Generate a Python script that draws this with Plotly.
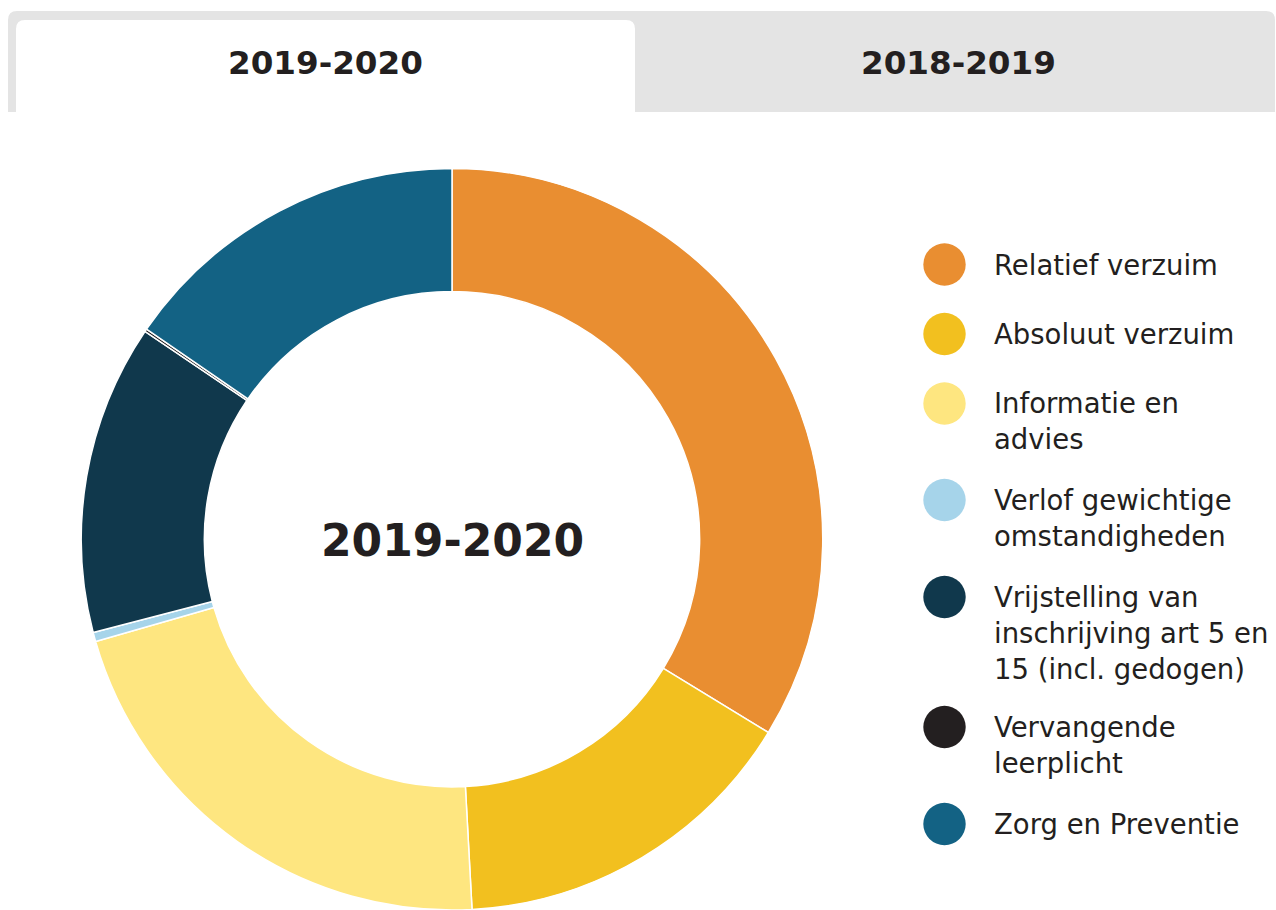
import plotly.graph_objects as go

# ---- data ----
categories = [
    "Relatief verzuim",
    "Absoluut verzuim",
    "Informatie en advies",
    "Verlof gewichtige omstandigheden",
    "Vrijstelling van inschrijving art 5 en 15 (incl. gedogen)",
    "Vervangende leerplicht",
    "Zorg en Preventie",
]
legend_labels = [
    "Relatief verzuim",
    "Absoluut verzuim",
    "Informatie en<br>advies",
    "Verlof gewichtige<br>omstandigheden",
    "Vrijstelling van<br>inschrijving art 5 en<br>15 (incl. gedogen)",
    "Vervangende<br>leerplicht",
    "Zorg en Preventie",
]
values = [33.7, 15.4, 21.4, 0.4, 13.5, 0.12, 15.4]
colors = ["#E98E31", "#F2C01F", "#FEE680", "#A6D4EA", "#10384C", "#231F20", "#136284"]
tab_labels = ["2019-2020", "2018-2019"]
center_label = "2019-2020"

W, H = 1276, 910
FONT = "DejaVu Sans, Verdana, sans-serif"
TXT = "#231F20"


def px(x):
    return x / W


def py(y):
    return 1 - y / H


fig = go.Figure()

# donut
cx, cy, r = 452, 539.5, 371
fig.add_trace(go.Pie(
    labels=categories,
    values=values,
    hole=0.668,
    sort=False,
    direction="clockwise",
    rotation=0,
    marker=dict(colors=colors, line=dict(color="white", width=1.5)),
    textinfo="none",
    hoverinfo="label+percent",
    showlegend=False,
    domain=dict(x=[px(cx - r), px(cx + r)], y=[0, py(cy - r)]),
))

shapes = []


def rounded_top_rect(x0, y0, x1, y1, rad, color):
    p = (f"M {px(x0)} {py(y1)} L {px(x0)} {py(y0 + rad)} "
         f"Q {px(x0)} {py(y0)} {px(x0 + rad)} {py(y0)} "
         f"L {px(x1 - rad)} {py(y0)} "
         f"Q {px(x1)} {py(y0)} {px(x1)} {py(y0 + rad)} "
         f"L {px(x1)} {py(y1)} Z")
    return dict(type="path", xref="paper", yref="paper", path=p,
                fillcolor=color, line=dict(width=0), layer="below")


# tab bar
shapes.append(rounded_top_rect(8, 11, 1275, 112, 9, "#E4E4E4"))
shapes.append(rounded_top_rect(16, 20, 635, 112, 9, "#FFFFFF"))

annotations = []
tab_centers = [325.5, 958]
for lab, xc in zip(tab_labels, tab_centers):
    annotations.append(dict(
        x=px(xc), y=py(63), xref="paper", yref="paper", text=f"<b>{lab}</b>",
        showarrow=False, xanchor="center", yanchor="middle",
        font=dict(family=FONT, size=32.6, color=TXT)))

# center label
annotations.append(dict(
    x=px(452.5), y=py(540), xref="paper", yref="paper", text=f"<b>{center_label}</b>",
    showarrow=False, xanchor="center", yanchor="middle",
    font=dict(family=FONT, size=44, color=TXT)))

# custom legend
legend_rows = [264.5, 334, 403.5, 500, 597, 727, 824]
lfs = 27.5
lh = 1.3 * lfs
cr = 21.2
for lab, col, yc in zip(legend_labels, colors, legend_rows):
    shapes.append(dict(type="circle", xref="paper", yref="paper",
                       x0=px(944.5 - cr), x1=px(944.5 + cr),
                       y0=py(yc + cr), y1=py(yc - cr),
                       fillcolor=col, line=dict(width=0)))
    n = lab.count("<br>") + 1
    annotations.append(dict(
        x=px(992), y=py(yc + (n - 1) * lh / 2), xref="paper", yref="paper",
        text=lab, showarrow=False, xanchor="left", yanchor="middle", align="left",
        font=dict(family=FONT, size=lfs, color=TXT)))

fig.update_layout(
    width=W, height=H,
    margin=dict(l=0, r=0, t=0, b=0),
    paper_bgcolor="white",
    plot_bgcolor="white",
    shapes=shapes,
    annotations=annotations,
    font=dict(family=FONT, color=TXT),
)

fig.write_html("out.html",
               config={"displayModeBar": False},
               post_script="document.body.style.margin='0';document.body.style.overflow='hidden';")
